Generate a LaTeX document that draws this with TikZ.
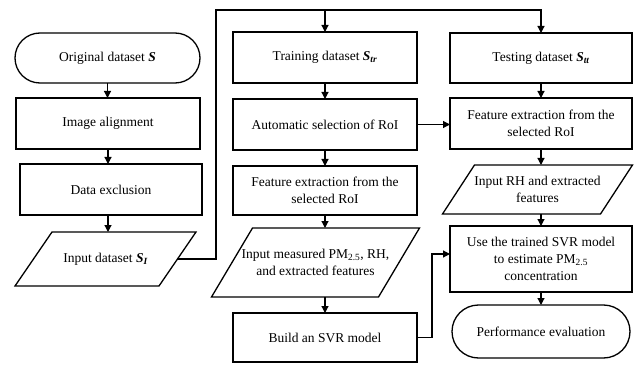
\documentclass[tikz,border=0pt]{standalone}
\usepackage{fontspec}
\setmainfont{Liberation Serif}
\usetikzlibrary{arrows.meta,calc}
\newcommand\iogram[2]{%
  \draw[iopath] ($(#1.north west)+(#2/2,0)$) -- ($(#1.north east)+(#2/2,0)$)
    -- ($(#1.south east)-(#2/2,0)$) -- ($(#1.south west)-(#2/2,0)$) -- cycle;}
\newcommand\bS{{\bfseries\itshape S}}
\newcommand\bsub[1]{\textsubscript{\bfseries\itshape #1}}
\begin{document}
\begin{tikzpicture}[x=1pt,y=-1pt,
  every node/.style={font=\fontsize{13.5}{17}\selectfont, align=center, inner sep=0pt, outer sep=0pt},
  procbox/.style={draw, line width=1.3pt, rectangle},
  termbox/.style={draw, line width=1.3pt, rectangle, rounded corners=25pt},
  iotext/.style={rectangle},
  iopath/.style={draw, line width=1.3pt},
  flow/.style={line width=1.2pt, -{Triangle[length=7pt,width=7pt]}}]
\useasboundingbox (0,0) rectangle (641,369);
% left column
\node[termbox, minimum width=185pt, minimum height=50pt] (orig) at (107.5,58) {Original dataset \bS};
\node[procbox, minimum width=184pt, minimum height=51pt] (align) at (108,123.5) {Image alignment};
\node[procbox, minimum width=182pt, minimum height=51pt] (excl) at (111,189.5) {Data exclusion};
\node[iotext, minimum width=144pt, minimum height=54pt] (inS) at (105.5,259) {Input dataset \bS\bsub{I}};
\iogram{inS}{37}
% middle column
\node[procbox, minimum width=184pt, minimum height=51pt] (train) at (325,57.5) {Training dataset \bS\bsub{tr}};
\node[procbox, minimum width=184pt, minimum height=51pt] (auto) at (325,124.5) {Automatic selection of RoI};
\node[procbox, minimum width=184pt, minimum height=49pt] (feat) at (325,190.5) {Feature extraction from the\\selected RoI};
\node[iotext, minimum width=167pt, minimum height=69pt] (inM) at (315.5,262.5) {Input measured PM\textsubscript{2.5}, RH,\\and extracted features};
\iogram{inM}{41}
\node[procbox, minimum width=184pt, minimum height=49pt] (build) at (325,337.5) {Build an SVR model};
% right column
\node[procbox, minimum width=182pt, minimum height=50pt] (test) at (541,58) {Testing dataset \bS\bsub{tt}};
\node[procbox, minimum width=182pt, minimum height=51pt] (feat2) at (541,123.5) {Feature extraction from the\\selected RoI};
\node[iotext, minimum width=158pt, minimum height=49pt] (inR) at (537.5,189.5) {Input RH and extracted\\features};
\iogram{inR}{32}
\node[procbox, minimum width=182pt, minimum height=66pt] (use) at (541,259) {Use the trained SVR model\\to estimate PM\textsubscript{2.5}\\concentration};
\node[termbox, rounded corners=26.5pt, minimum width=178pt, minimum height=53pt] (perf) at (541,331.5) {Performance evaluation};
% connectors
\coordinate (topL) at (216,10);
\draw[flow] (inS.east) -| (topL) -| (test.north);
\draw[flow] (train.north |- topL) -- (train.north);
\draw[flow] (orig.south) -- (orig.south |- align.north);
\draw[flow] (align.south) -- (align.south |- excl.north);
\draw[flow] (align.south |- excl.south) -- (align.south |- inS.north);
\draw[flow] (train.south) -- (auto.north);
\draw[flow] (auto.south) -- (feat.north);
\draw[flow] (feat.south) -- (feat.south |- inM.north);
\draw[flow] (build.north |- inM.south) -- (build.north);
\draw[flow] (auto.east) -- (auto.east -| feat2.west);
\draw[flow] (build.east) -- ++(15,0) |- ([yshift=5pt]use.west);
\draw[flow] (test.south) -- (feat2.north);
\draw[flow] (feat2.south) -- (feat2.south |- inR.north);
\draw[flow] (feat2.south |- inR.south) -- (use.north);
\draw[flow] (use.south) -- (perf.north);
\end{tikzpicture}
\end{document}
